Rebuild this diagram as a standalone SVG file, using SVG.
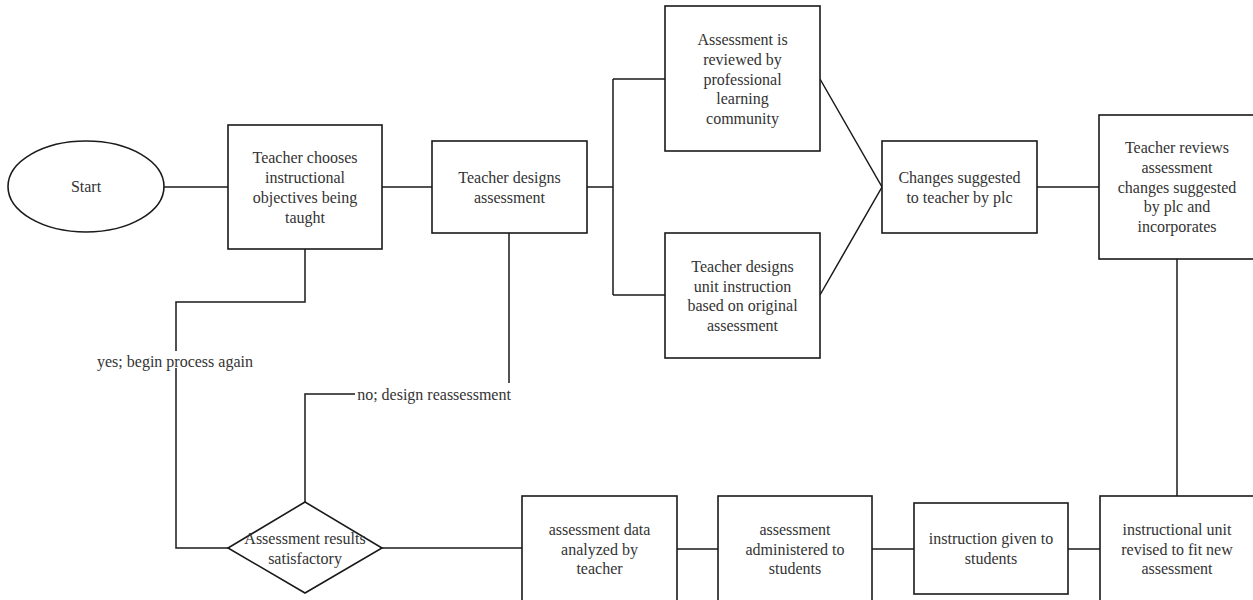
<svg xmlns="http://www.w3.org/2000/svg" width="1253" height="600" viewBox="0 0 1253 600">
<style>
.n{fill:#fff;stroke:#1a1a1a;stroke-width:1.6}
.c{fill:none;stroke:#1a1a1a;stroke-width:1.5}
text{font-family:"Liberation Serif","Times New Roman",serif;font-size:16px;fill:#333;text-anchor:middle}
.bg{fill:#fff;stroke:none}
</style>
<rect width="1253" height="600" fill="#fff"/>
<g id="connectors">
<line class="c" x1="164" y1="187" x2="228" y2="187"/>
<line class="c" x1="382" y1="187" x2="432" y2="187"/>
<path class="c" d="M587 187H613M613 79V295M613 79H665M613 295H665"/>
<path class="c" d="M820 79L882 187L820 295"/>
<line class="c" x1="1037" y1="187" x2="1099" y2="187"/>
<line class="c" x1="1177" y1="259" x2="1177" y2="496"/>
<line class="c" x1="1068" y1="549" x2="1100" y2="549"/>
<line class="c" x1="872" y1="549" x2="914" y2="549"/>
<line class="c" x1="677" y1="549" x2="718" y2="549"/>
<line class="c" x1="382" y1="548" x2="522" y2="548"/>
<path class="c" d="M305 249V302H176V548H228"/>
<path class="c" d="M509 233V394H305V502"/>
<g id="label-yes">
<rect class="bg" x="94" y="351" width="162" height="17"/>
<text x="175" y="367">yes; begin process again</text>
</g>
<g id="label-no">
<rect class="bg" x="355" y="383" width="159" height="22"/>
<text x="434" y="400">no; design reassessment</text>
</g>
</g>
<g id="start">
<ellipse class="n" cx="86" cy="186.5" rx="78" ry="45.5"/>
<text x="86" y="192">Start</text>
</g>
<g id="choose-objectives">
<rect class="n" x="228" y="125" width="154" height="124"/>
<text x="305" y="163">Teacher chooses</text>
<text x="305" y="183">instructional</text>
<text x="305" y="203">objectives being</text>
<text x="305" y="223">taught</text>
</g>
<g id="designs-assessment">
<rect class="n" x="432" y="141" width="155" height="92"/>
<text x="509.5" y="183">Teacher designs</text>
<text x="509.5" y="203">assessment</text>
</g>
<g id="plc-review">
<rect class="n" x="665" y="6" width="155" height="145"/>
<text x="742.5" y="45">Assessment is</text>
<text x="742.5" y="65">reviewed by</text>
<text x="742.5" y="85">professional</text>
<text x="742.5" y="104">learning</text>
<text x="742.5" y="124">community</text>
</g>
<g id="unit-instruction">
<rect class="n" x="665" y="233" width="155" height="125"/>
<text x="742.5" y="272">Teacher designs</text>
<text x="742.5" y="292">unit instruction</text>
<text x="742.5" y="311">based on original</text>
<text x="742.5" y="331">assessment</text>
</g>
<g id="changes-suggested">
<rect class="n" x="882" y="141" width="155" height="92"/>
<text x="959.5" y="183">Changes suggested</text>
<text x="959.5" y="203">to teacher by plc</text>
</g>
<g id="teacher-reviews">
<rect class="n" x="1099" y="115" width="156" height="144"/>
<text x="1177" y="153">Teacher reviews</text>
<text x="1177" y="173">assessment</text>
<text x="1177" y="193">changes suggested</text>
<text x="1177" y="212">by plc and</text>
<text x="1177" y="232">incorporates</text>
</g>
<g id="unit-revised">
<rect class="n" x="1100" y="496" width="156" height="110"/>
<text x="1177" y="535">instructional unit</text>
<text x="1177" y="555">revised to fit new</text>
<text x="1177" y="574">assessment</text>
</g>
<g id="instruction-given">
<rect class="n" x="914" y="503" width="154" height="91"/>
<text x="991" y="544">instruction given to</text>
<text x="991" y="564">students</text>
</g>
<g id="administered">
<rect class="n" x="718" y="496" width="154" height="110"/>
<text x="795" y="535">assessment</text>
<text x="795" y="555">administered to</text>
<text x="795" y="574">students</text>
</g>
<g id="data-analyzed">
<rect class="n" x="522" y="496" width="155" height="110"/>
<text x="599.5" y="535">assessment data</text>
<text x="599.5" y="555">analyzed by</text>
<text x="599.5" y="574">teacher</text>
</g>
<g id="results-satisfactory">
<polygon class="n" points="305,502 382,548 305,593 228,548"/>
<text x="305" y="544">Assessment results</text>
<text x="305" y="564">satisfactory</text>
</g>
</svg>
